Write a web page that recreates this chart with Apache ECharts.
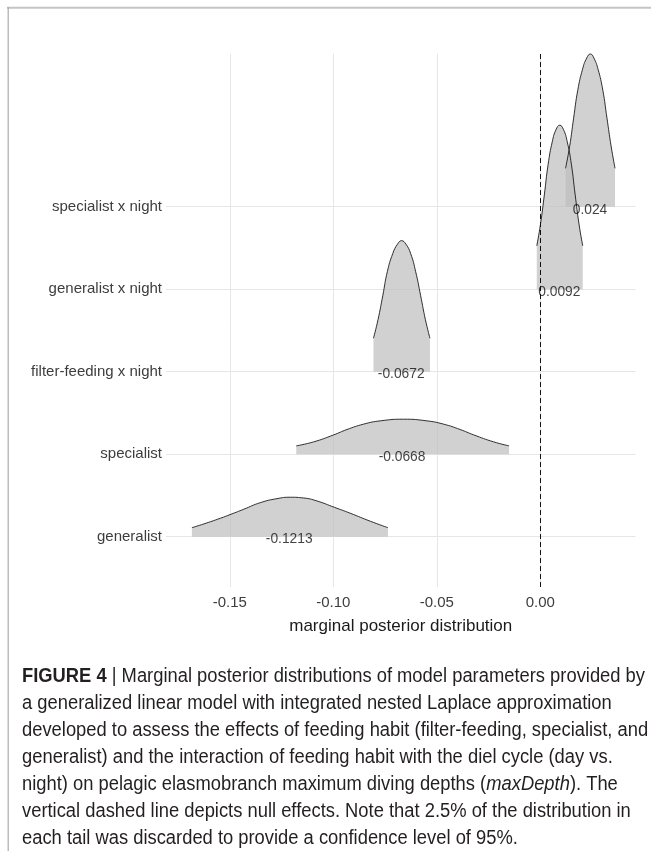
<!DOCTYPE html>
<html><head><meta charset="utf-8">
<script src="https://cdn.jsdelivr.net/npm/echarts@6/dist/echarts.min.js"></script>
<style>html,body{margin:0;padding:0;background:#fff}#c{width:651px;height:851px}</style>
</head><body><div id="c"></div>
<script>
// categories, bottom to top
const categories = ['generalist', 'specialist', 'filter-feeding x night', 'generalist x night', 'specialist x night'];
const meanValues = [-0.1213, -0.0668, -0.0672, 0.0092, 0.024];
const meanLabels = ['-0.1213', '-0.0668', '-0.0672', '0.0092', '0.024'];
const xTicks = [-0.15, -0.10, -0.05, 0.00];

// marginal posterior densities (trimmed at 2.5% tails), heights in ridge units
const generalistX = [-0.1683, -0.1626, -0.1546, -0.1494, -0.1433, -0.1353, -0.1272, -0.1208, -0.1143, -0.1079, -0.0995, -0.0918, -0.0821, -0.0736];
const generalistH = [0.109, 0.154, 0.223, 0.272, 0.332, 0.412, 0.461, 0.478, 0.469, 0.433, 0.356, 0.284, 0.187, 0.109];

const specialistX = [-0.1179, -0.1095, -0.0998, -0.0934, -0.0854, -0.0773, -0.0660, -0.0548, -0.0467, -0.0387, -0.0322, -0.0225, -0.0151];
const specialistH = [0.101, 0.149, 0.234, 0.299, 0.364, 0.404, 0.424, 0.404, 0.364, 0.299, 0.234, 0.149, 0.101];

const filterNightX = [-0.0806, -0.0784, -0.0761, -0.0739, -0.0713, -0.0690, -0.0670, -0.0649, -0.0626, -0.0602, -0.0578, -0.0555, -0.0533];
const filterNightH = [0.405, 0.630, 0.921, 1.212, 1.430, 1.545, 1.588, 1.545, 1.430, 1.212, 0.921, 0.630, 0.405];

const generalistNightX = [-0.0017, 0.0001, 0.0020, 0.0038, 0.0058, 0.0076, 0.0094, 0.0112, 0.0130, 0.0150, 0.0168, 0.0187, 0.0205];
const generalistNightH = [0.525, 0.789, 1.153, 1.516, 1.789, 1.935, 1.988, 1.935, 1.789, 1.516, 1.153, 0.789, 0.525];

const specialistNightX = [0.0122, 0.0142, 0.0161, 0.0181, 0.0204, 0.0224, 0.0242, 0.0259, 0.0279, 0.0302, 0.0322, 0.0342, 0.0361];
const specialistNightH = [0.465, 0.735, 1.074, 1.412, 1.666, 1.801, 1.851, 1.801, 1.666, 1.412, 1.074, 0.735, 0.465];

const ridgeX = [generalistX, specialistX, filterNightX, generalistNightX, specialistNightX];
const ridgeH = [generalistH, specialistH, filterNightH, generalistNightH, specialistNightH];

const chart = echarts.init(document.getElementById('c'), null, {renderer: 'canvas'});

const series = [];
for (let i = categories.length - 1; i >= 0; i--) {
  const base = i + 1;
  series.push({
    type: 'line',
    name: categories[i],
    data: ridgeX[i].map((x, j) => [x, base + ridgeH[i][j]]),
    smooth: 0.5,
    symbol: 'none',
    clip: false,
    lineStyle: {color: '#1a1a1a', width: 0.9},
    areaStyle: {origin: base, color: 'rgba(190,190,190,0.7)', opacity: 1},
    z: 2,
    silent: true
  });
}
series.push({
  type: 'scatter',
  data: meanValues.map((v, i) => [v, i + 1]),
  symbolSize: 0,
  silent: true,
  z: 10,
  label: {
    show: true,
    position: 'inside',
    offset: [0, 3],
    formatter: p => meanLabels[p.dataIndex],
    fontSize: 13.8,
    fontFamily: 'Liberation Sans',
    color: '#111'
  },
  markLine: {
    silent: true,
    symbol: 'none',
    label: {show: false},
    lineStyle: {color: '#111', width: 1, type: [5, 3]},
    data: [{xAxis: 0}],
    z: 9
  }
});

const captionFont = "'Liberation Sans', Arial, sans-serif";
const capSize = 20;
const captionLines = [
  '{b|FIGURE 4} | Marginal posterior distributions of model parameters provided by',
  'a generalized linear model with integrated nested Laplace approximation',
  'developed to assess the effects of feeding habit (filter-feeding, specialist, and',
  'generalist) and the interaction of feeding habit with the diel cycle (day vs.',
  'night) on pelagic elasmobranch maximum diving depths ({i|maxDepth}). The',
  'vertical dashed line depicts null effects. Note that 2.5% of the distribution in',
  'each tail was discarded to provide a confidence level of 95%.'
];
// horizontal compression so the first caption line spans the reference width
const cv = document.createElement('canvas').getContext('2d');
cv.font = 'bold ' + capSize + 'px ' + captionFont;
let w1 = cv.measureText('FIGURE 4').width;
cv.font = capSize + 'px ' + captionFont;
w1 += cv.measureText(' | Marginal posterior distributions of model parameters provided by').width;
const capScale = 623 / w1;

const graphics = [
  {type: 'line', shape: {x1: 7, y1: 7.7, x2: 651, y2: 7.7}, style: {stroke: '#c4c4c4', lineWidth: 2}, silent: true},
  {type: 'line', shape: {x1: 8.2, y1: 7, x2: 8.2, y2: 851}, style: {stroke: '#ababab', lineWidth: 1.2}, silent: true}
];
captionLines.forEach((t, k) => {
  graphics.push({
    type: 'text', x: 22, y: 676 + 27 * k, scaleX: capScale, silent: true,
    style: {
      text: t,
      fontSize: capSize, fontFamily: captionFont, fill: '#231f20',
      verticalAlign: 'middle', align: 'left',
      rich: {
        b: {fontSize: capSize, fontFamily: captionFont, fontWeight: 'bold', fill: '#231f20'},
        i: {fontSize: capSize, fontFamily: captionFont, fontStyle: 'italic', fill: '#231f20'}
      }
    }
  });
});

chart.setOption({
  animation: false,
  backgroundColor: '#fff',
  grid: {left: 166, right: 15.5, top: 54, bottom: 264, containLabel: false},
  xAxis: {
    type: 'value', min: -0.18082, max: 0.04599,
    axisLine: {show: false},
    axisTick: {show: false, customValues: xTicks},
    axisLabel: {customValues: xTicks, formatter: v => v.toFixed(2), fontSize: 15, fontFamily: 'Liberation Sans', color: '#3d3d3d', margin: 8},
    splitLine: {show: true, lineStyle: {color: '#e6e6e6', width: 1}},
    name: 'marginal posterior distribution', nameLocation: 'middle', nameGap: 31,
    nameTextStyle: {fontSize: 17, fontFamily: 'Liberation Sans', color: '#1a1a1a'}
  },
  yAxis: {
    type: 'value', min: 0.39, max: 6.851,
    axisLine: {show: false},
    axisTick: {show: false, customValues: [1, 2, 3, 4, 5]},
    axisLabel: {customValues: [1, 2, 3, 4, 5], formatter: v => categories[Math.round(v) - 1], fontSize: 15, fontFamily: 'Liberation Sans', color: '#3d3d3d', margin: 4},
    splitLine: {show: true, lineStyle: {color: '#e6e6e6', width: 1}}
  },
  series: series,
  graphic: graphics
});
</script>
</body></html>
